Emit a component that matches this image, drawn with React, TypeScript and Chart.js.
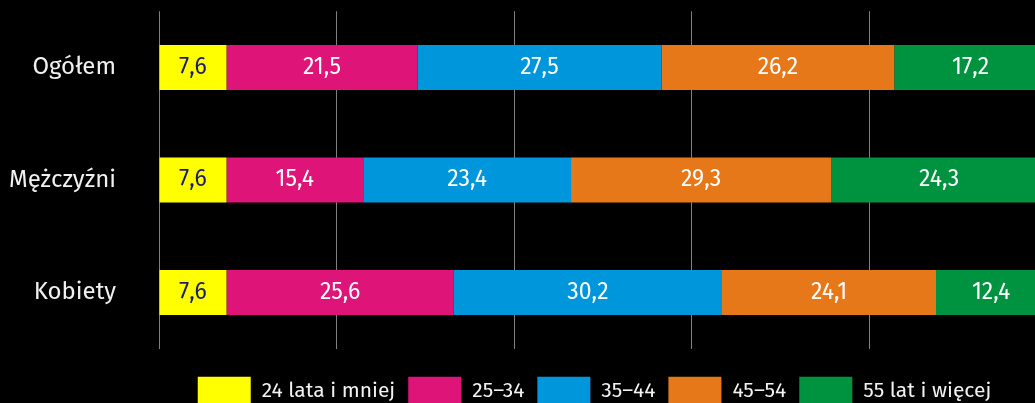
import React, { useEffect, useRef } from "react";
import { Chart, registerables } from "chart.js";

Chart.register(...registerables);

const categories = ["Ogółem", "Mężczyźni", "Kobiety"];
const seriesNames = ["24 lata i mniej", "25–34", "35–44", "45–54", "55 lat i więcej"];
const age24 = [7.6, 7.6, 7.6];
const age25_34 = [21.5, 15.4, 25.6];
const age35_44 = [27.5, 23.4, 30.2];
const age45_54 = [26.2, 29.3, 24.1];
const age55 = [17.2, 24.3, 12.4];
const seriesColors = ["#FFFF00", "#DE1479", "#0096DB", "#E67819", "#00933F"];
const labelColors = ["#1c1c6e", "#ffffff", "#ffffff", "#ffffff", "#ffffff"];
const xTicksStep = 20;

const FONT = "'Fira Sans', 'Open Sans', sans-serif";
const LABEL_SIZE = 24;
const VALUE_SIZE = 23;
const LEGEND_SIZE = 21;

const valueLabels = {
  id: "valueLabels",
  afterDatasetsDraw(chart: any) {
    const ctx = chart.ctx;
    ctx.save();
    ctx.font = `${VALUE_SIZE}px ${FONT}`;
    ctx.textAlign = "center";
    ctx.textBaseline = "middle";
    chart.data.datasets.forEach((ds: any, di: number) => {
      const meta = chart.getDatasetMeta(di);
      meta.data.forEach((bar: any, i: number) => {
        const v = ds.data[i];
        const x = (bar.x + bar.base) / 2;
        ctx.fillStyle = labelColors[di];
        ctx.fillText(v.toFixed(1).replace(".", ","), x, bar.y);
      });
    });
    ctx.restore();
  },
};

const customLegend = {
  id: "customLegend",
  afterDraw(chart: any) {
    const ctx = chart.ctx;
    const boxW = 53;
    const boxH = 30;
    const gapText = 11;
    const gapItem = 13;
    ctx.save();
    ctx.font = `${LEGEND_SIZE}px ${FONT}`;
    const widths = seriesNames.map((n) => boxW + gapText + ctx.measureText(n).width);
    const total = widths.reduce((a, b) => a + b, 0) + gapItem * (widths.length - 1);
    let x = chart.width / 2 - total / 2;
    const top = chart.chartArea.bottom + 28;
    ctx.textBaseline = "middle";
    ctx.textAlign = "left";
    seriesNames.forEach((n, i) => {
      ctx.fillStyle = seriesColors[i];
      ctx.fillRect(x, top, boxW, boxH);
      ctx.fillStyle = "#f2f2f2";
      ctx.fillText(n, x + boxW + gapText, top + 14);
      x += widths[i] + gapItem;
    });
    ctx.restore();
  },
};

const zeroPad = (s: any) => {
  s.paddingTop = 0;
  s.paddingBottom = 0;
  s.paddingLeft = 0;
  s.paddingRight = 0;
};

export default function App() {
  const ref = useRef<HTMLCanvasElement>(null);
  useEffect(() => {
    if (!ref.current) return;
    Chart.defaults.font.family = FONT;
    const seriesData = [age24, age25_34, age35_44, age45_54, age55];
    const chart = new Chart(ref.current, {
      type: "bar",
      data: {
        labels: categories,
        datasets: seriesNames.map((name, i) => ({
          label: name,
          data: seriesData[i],
          backgroundColor: seriesColors[i],
          borderWidth: 0,
          barPercentage: 0.4,
          categoryPercentage: 1,
        })),
      },
      options: {
        indexAxis: "y",
        animation: false,
        responsive: false,
        maintainAspectRatio: false,
        layout: { autoPadding: false, padding: { top: 11.25, bottom: 54.25, left: 0, right: 142 } },
        plugins: {
          legend: { display: false },
          tooltip: { enabled: false },
        },
        scales: {
          x: {
            stacked: true,
            min: 0,
            max: 100,
            ticks: { display: false, stepSize: xTicksStep },
            grid: { color: "#808080", lineWidth: 1, drawTicks: false },
            border: { display: false },
            afterFit: (s: any) => {
              s.height = 0;
              zeroPad(s);
            },
          },
          y: {
            stacked: true,
            ticks: {
              color: "#f0f0f0",
              padding: 43,
              font: { size: LABEL_SIZE, family: FONT },
            },
            grid: { display: false, drawTicks: false },
            border: { display: false },
            afterFit: (s: any) => {
              s.width = 159;
              zeroPad(s);
            },
          },
        },
      },
      plugins: [valueLabels, customLegend],
    });
    return () => chart.destroy();
  }, []);

  return (
    <div
      style={{
        position: "fixed",
        left: 0,
        top: 0,
        width: 1035,
        height: 403,
        overflow: "hidden",
        background: "#000",
      }}
    >
      <canvas ref={ref} width={1189} height={403} style={{ display: "block", width: 1189, height: 403 }} />
    </div>
  );
}
